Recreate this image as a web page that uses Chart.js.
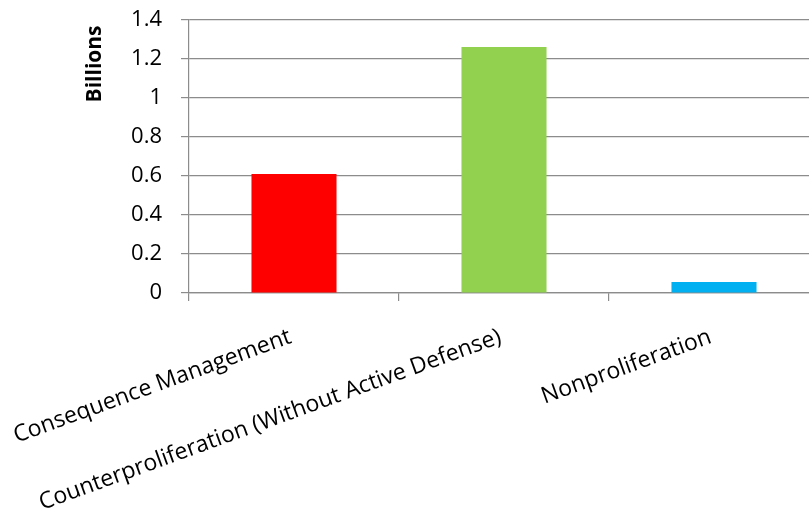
<!DOCTYPE html>
<html>
<head>
<meta charset="utf-8">
<script src="https://cdn.jsdelivr.net/npm/chart.js@4/dist/chart.umd.min.js"></script>
<style>
  html, body { margin: 0; padding: 0; background: #ffffff; overflow: hidden; }
  #wrap { width: 809px; height: 514px; overflow: hidden; position: relative; }
  canvas { display: block; }
</style>
</head>
<body>
<div id="wrap"><canvas id="chart" width="840" height="514"></canvas></div>
<script>
// Spending by program area, in billions
const categories = [
  'Consequence Management',
  'Counterproliferation (Without Active Defense)',
  'Nonproliferation'
];
const values = [0.61, 1.262, 0.056];
const barColors = ['#FF0000', '#92D050', '#00B0F0'];
const yTicks = [0, 0.2, 0.4, 0.6, 0.8, 1, 1.2, 1.4];

const gridColor = '#8c8c8c';
const textColor = '#000000';

new Chart(document.getElementById('chart'), {
  type: 'bar',
  data: {
    labels: categories,
    datasets: [{
      data: values,
      backgroundColor: barColors,
      borderWidth: 0,
      categoryPercentage: 1,
      barPercentage: 0.405
    }]
  },
  options: {
    responsive: false,
    animation: false,
    events: [],
    layout: { padding: { top: 20, right: 21, bottom: 0, left: 0 } },
    plugins: { legend: { display: false }, tooltip: { enabled: false } },
    scales: {
      x: {
        offset: true,
        grid: {
          offset: true,
          drawOnChartArea: false,
          drawTicks: true,
          tickLength: 8,
          color: gridColor,
          lineWidth: 1.2
        },
        border: { display: true, color: gridColor, width: 1.2 },
        ticks: {
          autoSkip: false,
          minRotation: 20,
          maxRotation: 20,
          padding: 21,
          color: textColor,
          font: { family: '"Open Sans"', size: 23 },
          // a thin trailing space pulls each rotated label slightly left of its tick
          callback: (v, i) => categories[i] + '\u2009'
        },
        // fixed axis band; rotated labels may spill into the left margin
        afterFit: s => { s.height = 221; s.paddingLeft = 0; s.paddingRight = 0; }
      },
      y: {
        min: 0,
        max: 1.4,
        afterBuildTicks: s => { s.ticks = yTicks.map(v => ({ value: v })); },
        grid: {
          color: gridColor,
          lineWidth: 1.2,
          tickLength: 8
        },
        border: { display: true, color: gridColor, width: 1.2 },
        ticks: {
          padding: 19,
          color: textColor,
          font: { family: '"Open Sans"', size: 22 },
          callback: v => String(v)
        },
        title: {
          display: true,
          text: 'Billions ',
          align: 'end',
          color: textColor,
          padding: { top: 82, bottom: 0 },
          font: { family: '"Open Sans"', size: 21, weight: 'bold' }
        },
        afterFit: s => { s.width = 189; s.paddingTop = 0; s.paddingBottom = 0; }
      }
    }
  }
});
</script>
</body>
</html>
